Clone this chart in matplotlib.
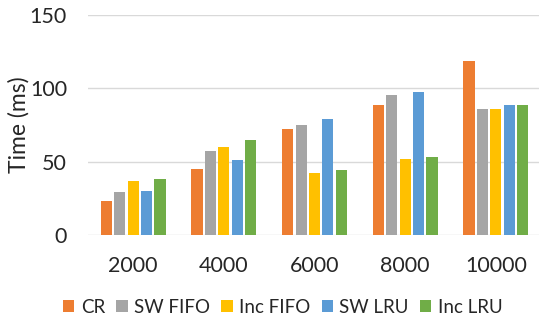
import numpy as np
import matplotlib.pyplot as plt

plt.rcParams['font.family'] = ['Lato', 'DejaVu Sans']

# Query sizes and timings per strategy
sizes = ['2000', '4000', '6000', '8000', '10000']
cr = [23.5, 45, 72.5, 88.5, 119]
sw_fifo = [29.5, 57, 75, 95.5, 86]
inc_fifo = [36.5, 60, 42.5, 52, 86]
sw_lru = [30, 51, 79, 97.5, 88.5]
inc_lru = [38.5, 64.5, 44.5, 53.5, 88.5]

series = [('CR', cr, '#ED7D31'),
          ('SW FIFO', sw_fifo, '#A5A5A5'),
          ('Inc FIFO', inc_fifo, '#FFC000'),
          ('SW LRU', sw_lru, '#5B9BD5'),
          ('Inc LRU', inc_lru, '#70AD47')]

fig = plt.figure(figsize=(5.39, 3.21), dpi=100)
ax = fig.add_axes([0.163, 0.268, 0.841, 0.685])

x = np.arange(len(sizes))
pitch = 0.148
w = 0.122
for k, (name, vals, col) in enumerate(series):
    ax.bar(x + (k - 2) * pitch, vals, w, color=col, label=name, zorder=3)

ax.set_ylim(0, 150)
ax.set_xlim(-0.5, 4.5)
ax.set_yticks([0, 50, 100, 150])
ax.set_xticks(x)
ax.set_xticklabels(sizes)
ax.yaxis.grid(True, color='#D9D9D9', linewidth=1, zorder=0)
ax.tick_params(length=0, labelsize=15.5, colors='#262626')
ax.tick_params(axis='x', pad=15)
ax.tick_params(axis='y', pad=15)
for s in ax.spines.values():
    s.set_visible(False)
ax.set_ylabel('Time (ms)', fontsize=16.5, color='#262626', labelpad=0)

ax.legend(loc='center', bbox_to_anchor=(0.43, -0.33), ncol=5, frameon=False,
          fontsize=13.5, handlelength=0.6, handleheight=0.6, handletextpad=0.35,
          columnspacing=0.6, labelcolor='#262626')

fig.savefig('out.png', dpi=100)
